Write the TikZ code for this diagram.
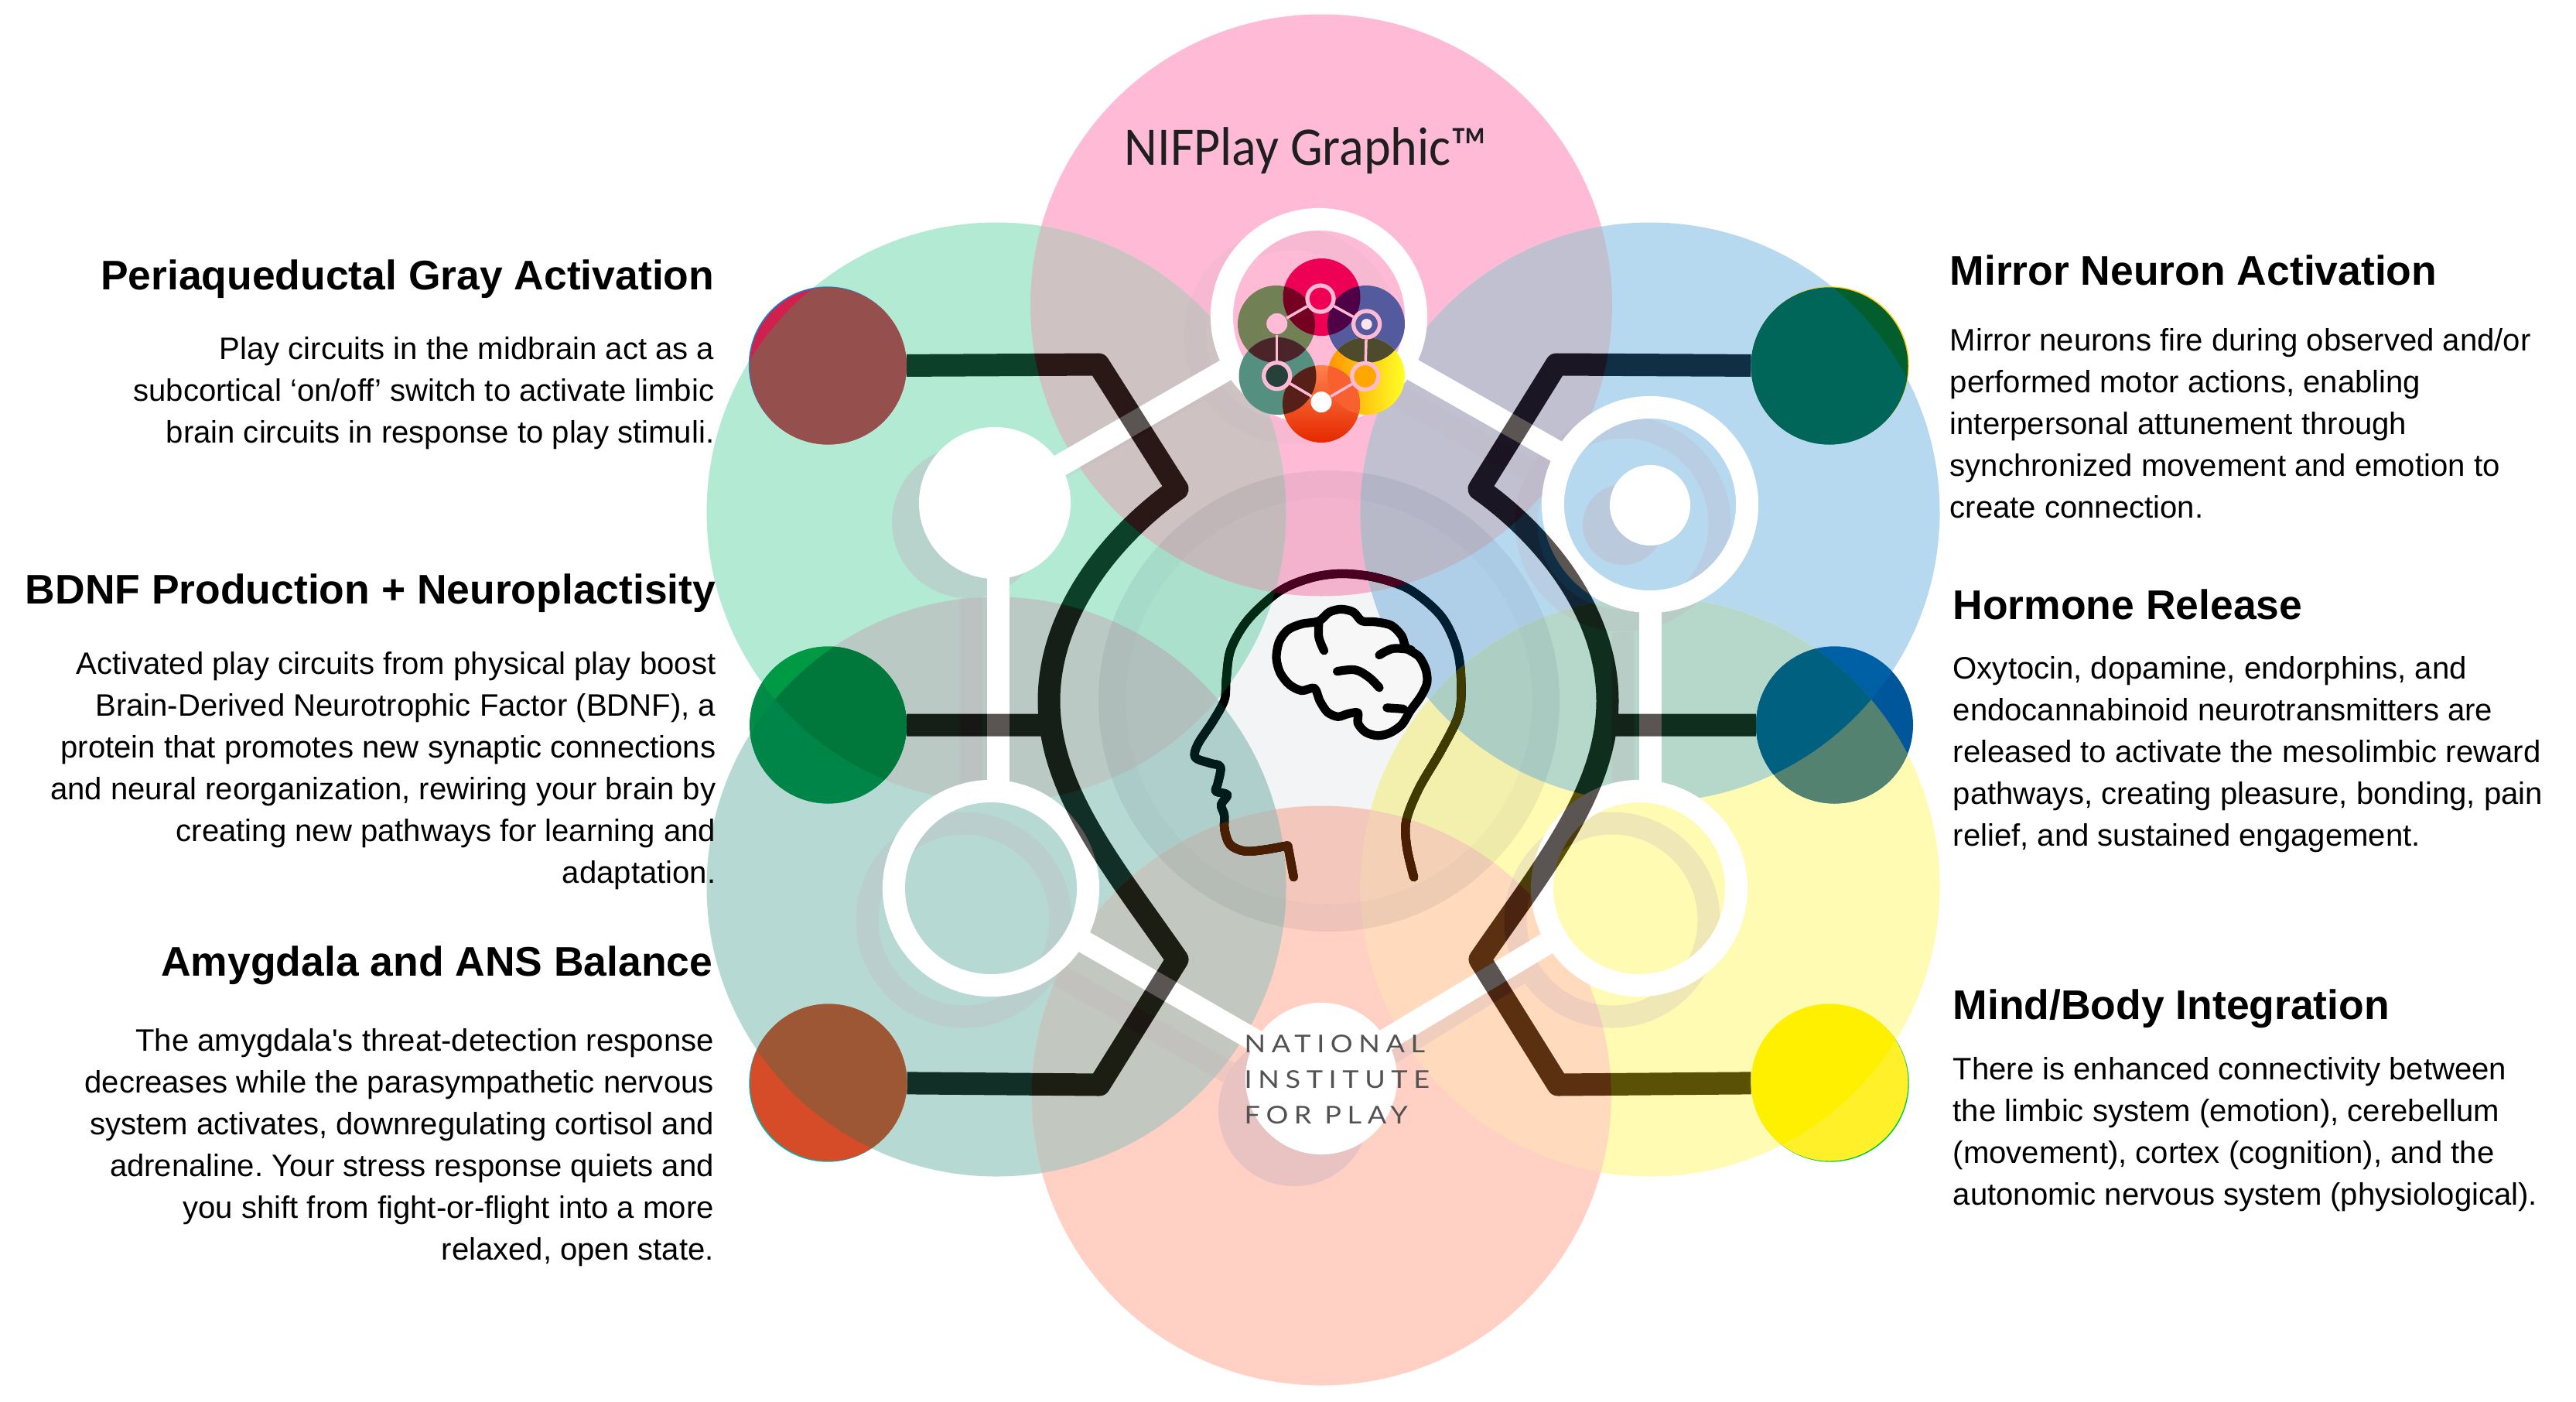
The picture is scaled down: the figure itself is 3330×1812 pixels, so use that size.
\documentclass[tikz,border=0pt]{standalone}
\usepackage{fontspec}
\setmainfont{Liberation Sans}
\newfontfamily\plainfont{Liberation Sans}
\newfontfamily\niffont[FakeStretch=0.94]{Carlito}
\newfontfamily\logofont[LetterSpace=24,FakeStretch=1.14]{Lato}
\definecolor{pk}{HTML}{FFBBD5}
\definecolor{gn}{HTML}{B2EAD4}
\definecolor{bl}{HTML}{B6D9F0}
\definecolor{ye}{HTML}{FFFBB3}
\definecolor{sa}{HTML}{FFD0C3}
\definecolor{te}{HTML}{B6D9D3}
\definecolor{pkgn}{HTML}{CEC2C2}
\definecolor{pkbl}{HTML}{C0C0D0}
\definecolor{gnte}{HTML}{BAC9C4}
\definecolor{blye}{HTML}{B5D8CA}
\definecolor{tesa}{HTML}{C2C8BF}
\definecolor{yesa}{HTML}{FFDABD}
\definecolor{burn}{RGB}{165,170,172}
\definecolor{shad}{RGB}{195,175,190}
\definecolor{haloc}{RGB}{30,40,70}
\def\PP{(1708,394.5) circle[radius=376]}
\def\PG{(1288,662) circle[radius=374.5]}
\def\PB{(2133,662) circle[radius=374.5]}
\def\PT{(1288,1146) circle[radius=374.5]}
\def\PY{(2133,1146) circle[radius=374.5]}
\def\PS{(1708,1416) circle[radius=374.5]}
\newcommand\lens[3]{\begin{scope}\clip #1;\fill[#3] #2;\end{scope}}
\newcommand\lenstwo[4]{\begin{scope}\clip #1;\clip #2;\fill[#4] #3;\end{scope}}
\newcommand\headpath{plot[smooth,tension=.55] coordinates {(1070,1290) (1050,1190) (1048,1100) (1085,990) (1150,860) (1200,740) (1207,630) (1195,520) (1150,410) (1060,320) (960,278) (860,265) (770,280) (680,325) (590,420) (540,520) (527,620) (522,690) (490,760) (445,840) (437,885) (480,905) (510,918) (502,975) (497,1000) (530,1012) (512,1045) (521,1080) (522,1130) (538,1180) (580,1202) (640,1197) (705,1183)} -- (722,1290)}
\newcommand\headin[2]{\begin{scope}\clip #1;\begin{scope}[zoomtwo]\draw[headline,#2] \headpath;\end{scope}\end{scope}}
\tikzset{
  zoomtwo/.style={shift={(1350,640)},xscale=0.4464,yscale=0.3827},
  headline/.style={line width=3.2pt,line cap=round,line join=round},
  brainline/.style={line width=3.2pt,line cap=round,line join=round,black},
  netring/.style={circle,draw=white,line width=0.29cm,minimum size=2.51cm,inner sep=0pt},
  netdisc/.style={circle,fill=white,minimum size=1.96cm,inner sep=0pt},
  netline/.style={white,line width=0.29cm,shorten <=-3pt,shorten >=-3pt},
  shadowline/.style={shad,opacity=.26,line width=0.29cm},
  shadowfaint/.style={shad,opacity=.12,line width=0.29cm},
  shadowfill/.style={shad,opacity=.38},
  endpt/.style={circle,minimum size=2.03cm,inner sep=0pt,outer sep=0pt},
  miniring/.style={circle,draw=pk,line width=1.5pt,minimum size=0.34cm,inner sep=0pt},
  minisolid/.style={circle,minimum size=0.27cm,inner sep=0pt},
  miniline/.style={pk,line width=1pt},
  title/.style={font=\bfseries\fontsize{15.2}{18}\selectfont,inner sep=0pt,black},
  bodytext/.style={font=\fontsize{11.4}{15.36}\selectfont,inner sep=0pt,black},
}
\newcommand\fl{\rule{0pt}{8.535pt}}
\frenchspacing
\begin{document}
\begin{tikzpicture}[x=0.01cm,y=-0.01cm]
\useasboundingbox (0,0) rectangle (3330,1812);
\fill[white] (0,0) rectangle (3330,1812);
% petals
\fill[pk] \PP; \fill[gn] \PG; \fill[bl] \PB; \fill[te] \PT; \fill[ye] \PY; \fill[sa] \PS;
\lens{\PP}{\PG}{pkgn}
\lens{\PP}{\PB}{pkbl}
\lens{\PG}{\PT}{gnte}
\lens{\PB}{\PY}{blye}
\lens{\PT}{\PS}{tesa}
\lens{\PY}{\PS}{yesa}
% centre halo
\fill[haloc,opacity=.05] (1718,906) circle[radius=263];
\draw[haloc,opacity=.075,line width=0.35cm] (1718,906) circle[radius=280.5];
% shadows of the network
\begin{scope}[shift={(-35,25)}]
\draw[shadowfaint] (1705,409) circle[radius=125] (1584,479) -- (1371,601) (1827,478) -- (2011,583);
\end{scope}
\begin{scope}[shift={(-35,25)}]
\draw[shadowline] (2133,652) circle[radius=125] (1290,748) -- (1290,1009) (2133,792) -- (2133,1010);
\fill[shadowfill] (1286,650) circle[radius=98] (2133,653) circle[radius=52];
\end{scope}
\begin{scope}[shift={(-35,41)}]
\draw[shadowline] (1281,1148) circle[radius=125] (2119,1148) circle[radius=125]
  (1402,1218) -- (1623,1345) (1998,1218) -- (1793,1345);
\fill[shadowfill] (1708,1394) circle[radius=98];
\end{scope}
% white network
\node[netring] (ntop) at (1705,409) {};
\node[netdisc] (nul) at (1286,650) {};
\node[netring] (nur) at (2133,652) {};
\node[netring] (nll) at (1281,1148) {};
\node[netring] (nlr) at (2119,1148) {};
\node[netdisc] (nbo) at (1708,1394) {};
\node[circle,fill=white,minimum size=1.04cm,inner sep=0pt] (nuri) at (2133,653) {};
\draw[netline] (ntop) -- (nul);
\draw[netline] (ntop) -- (nur);
\draw[netline] (nll) -- (nbo);
\draw[netline] (nlr) -- (nbo);
\draw[netline,shorten <=-6pt,shorten >=-6pt] ([xshift=0.04cm]nul.south) -- ([xshift=0.04cm]nul.south |- nll.north);
\draw[netline,shorten <=-6pt,shorten >=-6pt] (nur.south) -- (nur.south |- nlr.north);
% end points (named first, painted after their connectors)
\coordinate (cPAG) at (1070.5,473);
\coordinate (cBD) at (1070.5,937);
\coordinate (cAM) at (1071,1399);
\coordinate (cMI) at (2365,473);
\coordinate (cHO) at (2371.5,937);
\coordinate (cMB) at (2365,1399);
\path (cPAG) node[endpt] (pag) {} (cBD) node[endpt] (bdnf) {} (cAM) node[endpt] (amyg) {}
      (cMI) node[endpt] (mirr) {} (cHO) node[endpt] (horm) {} (cMB) node[endpt] (mind) {};
% dark connectors, one path so that the difference blend is applied once
\coordinate (tlc) at (1420,471); \coordinate (tla) at (1522,632);
\coordinate (blc) at (1421,1402); \coordinate (bla) at (1522,1240);
\coordinate (trc) at (2012,471); \coordinate (tra) at (1912,632);
\coordinate (brc) at (2014,1402); \coordinate (bra) at (1913,1240);
\coordinate (lm) at (1356,906); \coordinate (rm) at (2078,906);
\draw[burn,line width=0.29cm,line join=round,blend mode=difference]
  (pag) -- (tlc) -- (tla) .. controls (1440,690) and (1356,790) .. (lm)
        .. controls (1356,1022) and (1440,1122) .. (bla) -- (blc) -- (amyg)
  (mirr) -- (trc) -- (tra) .. controls (1994,690) and (2078,790) .. (rm)
        .. controls (2078,1022) and (1994,1122) .. (bra) -- (brc) -- (mind)
  (bdnf) -- (bdnf -| lm)
  (horm) -- (horm -| rm);
% end discs
\fill[cyan!70!blue] ([shift={(-1.2,-1.2)}]pag.center) circle[radius=101.5];
\fill[teal!60!cyan] ([shift={(-1.2,1.2)}]amyg.center) circle[radius=101.5];
\fill[orange!40!yellow] ([shift={(1.2,-1.2)}]mirr.center) circle[radius=101.5];
\fill[green!60!teal] ([shift={(1.2,1.2)}]mind.center) circle[radius=101.5];
\definecolor{d1}{HTML}{D0204E}\definecolor{d1b}{HTML}{95504E}
\definecolor{d2}{HTML}{008C46}\definecolor{d2a}{HTML}{009A44}\definecolor{d2b}{HTML}{008548}\definecolor{d2c}{HTML}{00783C}
\definecolor{d3}{HTML}{D64C28}\definecolor{d3b}{HTML}{9E5735}
\definecolor{d4}{HTML}{025F2D}\definecolor{d4b}{HTML}{00665A}
\definecolor{d5}{HTML}{00569B}\definecolor{d5a}{HTML}{0060A6}\definecolor{d5b}{HTML}{548270}\definecolor{d5c}{HTML}{006080}
\definecolor{d6}{HTML}{FFF02A}\definecolor{d6b}{HTML}{FFF000}
\fill[d1] (cPAG) circle[radius=101.5]; \lens{\PG}{(cPAG) circle[radius=101.5]}{d1b}
\fill[d2] (cBD) circle[radius=101.5]; \lens{\PG}{(cBD) circle[radius=101.5]}{d2a} \lens{\PT}{(cBD) circle[radius=101.5]}{d2b} \lenstwo{\PG}{\PT}{(cBD) circle[radius=101.5]}{d2c}
\fill[d3] (cAM) circle[radius=101.5]; \lens{\PT}{(cAM) circle[radius=101.5]}{d3b}
\fill[d4] (cMI) circle[radius=101.5]; \lens{\PB}{(cMI) circle[radius=101.5]}{d4b}
\fill[d5] (cHO) circle[radius=101.5]; \lens{\PB}{(cHO) circle[radius=101.5]}{d5a} \lens{\PY}{(cHO) circle[radius=101.5]}{d5b} \lenstwo{\PB}{\PY}{(cHO) circle[radius=101.5]}{d5c}
\fill[d6] (cMB) circle[radius=101.5]; \lens{\PY}{(cMB) circle[radius=101.5]}{d6b}
% mini logo
\definecolor{m1}{HTML}{EE0055}\definecolor{m2}{HTML}{728056}\definecolor{m3}{HTML}{545A9E}
\definecolor{m4}{HTML}{558F80}\definecolor{m12}{HTML}{750021}\definecolor{m13}{HTML}{4F0047}
\definecolor{m24}{HTML}{4A2428}\definecolor{m35}{HTML}{4E4A2C}\definecolor{m46}{HTML}{562018}\definecolor{m56}{HTML}{F86030}
\def\MA{(1708.5,384) circle[radius=50]}
\def\MB{(1650,419) circle[radius=50]}
\def\MC{(1766,419) circle[radius=50]}
\def\MD{(1651.5,486) circle[radius=50]}
\def\ME{(1766,486) circle[radius=50]}
\def\MF{(1708,522) circle[radius=50]}
\fill[m1] \MA; \fill[m2] \MB; \fill[m3] \MC; \fill[m4] \MD;
\shade[left color=orange!85!yellow,right color=yellow!85!white] \ME;
\shade[top color=orange!60!red!70!white,bottom color=red!65!orange!90!black] \MF;
\lens{\MA}{\MB}{m12} \lens{\MA}{\MC}{m13} \lens{\MB}{\MD}{m24} \lens{\MC}{\ME}{m35} \lens{\MD}{\MF}{m46} \lens{\ME}{\MF}{m56}
\node[minisolid,fill=pk] (s2) at (1650.7,418.4) {};
\node[miniring,fill=m1] (s1) at (1707,386) {};
\node[miniring,fill=m3] (s3) at (1766.6,419) {};
\node[minisolid,fill=pk!40!white,minimum size=0.14cm] (s3i) at (1766.6,419) {};
\node[miniring,fill=black!55!m4] (s4) at (1650.7,485.7) {};
\node[miniring,fill=orange!70!yellow] (s5) at (1764.7,486.4) {};
\node[minisolid,fill=white] (s6) at (1708,519.6) {};
\draw[miniline] (s2) -- (s1);
\draw[miniline] (s1) -- (s3);
\draw[miniline] (s3) -- (s5);
\draw[miniline] (s5) -- (s6);
\draw[miniline] (s6) -- (s4);
\draw[miniline] (s4) -- (s2);
% head and brain
\begin{scope}[zoomtwo]\draw[headline,black] \headpath;\end{scope}
\definecolor{hpk}{HTML}{4A0020}\definecolor{hgn}{HTML}{002A14}\definecolor{hbl}{HTML}{001E32}
\definecolor{hte}{HTML}{001C1A}\definecolor{hye}{HTML}{3F3A00}\definecolor{hsa}{HTML}{4A1E00}
\headin{\PG}{hgn} \headin{\PB}{hbl} \headin{\PT}{hte} \headin{\PY}{hye} \headin{\PP}{hpk} \headin{\PS}{hsa}
\begin{scope}[zoomtwo]
\draw[brainline,fill=white!97!black] plot[smooth cycle,tension=.5] coordinates {(795,425) (825,395) (860,385) (895,395) (920,425) (960,428) (1005,440) (1035,475) (1048,515) (1085,545) (1105,590) (1108,635) (1090,680) (1060,728) (1035,775) (1000,803) (965,812) (930,800) (908,770) (908,735) (880,738) (850,748) (820,733) (798,695) (782,652) (745,660) (710,640) (683,600) (672,550) (680,495) (705,455) (745,435)};
\draw[brainline] plot[smooth,tension=.6] coordinates {(795,432) (795,480) (810,525)};
\draw[brainline] plot[smooth,tension=.6] coordinates {(970,540) (1010,518) (1062,522)};
\draw[brainline] plot[smooth,tension=.6] coordinates {(848,595) (900,590) (940,615) (970,650)};
\draw[brainline] plot[smooth,tension=.6] coordinates {(992,718) (1040,722)};
\end{scope}
% labels in the figure
\node[anchor=base,inner sep=0pt,font=\niffont\fontsize{20}{24}\selectfont,text=black!88] (nifg) at (1688,213) {NIFPlay Graphic™};
\node[anchor=north west,align=left,inner sep=0pt,text=black!68,font=\logofont\fontsize{9}{13.1}\selectfont] (niflogo) at (1608,1337) {NATIONAL\\INSTITUTE\\FOR PLAY};
% left texts
\node[title,anchor=base east] (t1) at (924,374) {Periaqueductal Gray Activation};
\node[bodytext,anchor=north east,align=right] (b1) at (924,433.6) {\fl Play circuits in the midbrain act as a\\subcortical ‘on/off’ switch to activate limbic\\brain circuits in response to play stimuli.};
\node[title,anchor=base east] (t2) at (926,780) {BDNF Production + Neuroplactisity};
\node[bodytext,anchor=north east,align=right] (b2) at (926,840.6) {\fl Activated play circuits from physical play boost\\Brain-Derived Neurotrophic Factor (BDNF), a\\protein that promotes new synaptic connections\\and neural reorganization, rewiring your brain by\\creating new pathways for learning and\\adaptation.};
\node[title,anchor=base east] (t3) at (922,1261.5) {Amygdala and ANS Balance};
\node[bodytext,anchor=north east,align=right] (b3) at (923.5,1327.4) {\fl The amygdala{\plainfont '}s threat-detection response\\decreases while the parasympathetic nervous\\system activates, downregulating cortisol and\\adrenaline. Your stress response quiets and\\you shift from fight-or-flight into a more\\relaxed, open state.};
% right texts
\node[title,anchor=base west] (t4) at (2520,368) {Mirror Neuron Activation};
\node[bodytext,anchor=north west,align=left] (b4) at (2520,422.5) {\fl Mirror neurons fire during observed and/or\\performed motor actions, enabling\\interpersonal attunement through\\synchronized movement and emotion to\\create connection.};
\node[title,anchor=base west] (t5) at (2524,800) {Hormone Release};
\node[bodytext,anchor=north west,align=left] (b5) at (2524,847) {\fl Oxytocin, dopamine, endorphins, and\\endocannabinoid neurotransmitters are\\released to activate the mesolimbic reward\\pathways, creating pleasure, bonding, pain\\relief, and sustained engagement.};
\node[title,anchor=base west] (t6) at (2524,1317) {Mind/Body Integration};
\node[bodytext,anchor=north west,align=left] (b6) at (2524,1365) {\fl There is enhanced connectivity between\\the limbic system (emotion), cerebellum\\(movement), cortex (cognition), and the\\autonomic nervous system (physiological).};
\end{tikzpicture}
\end{document}
